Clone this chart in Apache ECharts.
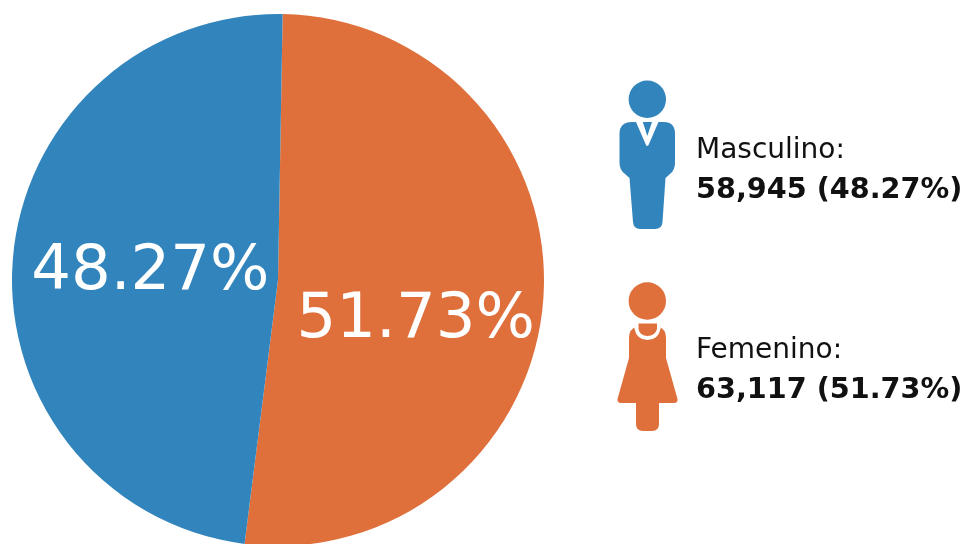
<!DOCTYPE html>
<html><head><meta charset="utf-8">
<style>html,body{margin:0;padding:0;background:#fff}#c{width:967px;height:544px}</style>
<script src="https://cdn.jsdelivr.net/npm/echarts@6/dist/echarts.min.js"></script>
</head><body><div id="c"></div>
<script>
const categories = ['Femenino', 'Masculino'];
const counts = ['63,117', '58,945'];
const percents = [51.73, 48.27];
const colors = ['#DF703B', '#3285BC'];
const FONT = '"DejaVu Sans"';

const manBody = 'M632 122 L664 122 Q675 122 675 134 L675 163 Q675 170 670 174 L665.5 178 L662.5 222 Q662 229 655 229 L640 229 Q633.5 229 633 222 L629.5 178 L625 174 Q619.5 170 619.5 163 L619.5 134 Q619.5 122 632 122 Z';
const manTieWhite = 'M636 122 L658.5 122 L648.5 145 Q647.3 147 646 145 Z';
const manTieInner = 'M642.8 122 L652 122 L647.3 136 Z';
const womanBody = 'M636 327 L659 327 Q666 329 666 338 L666 358 L677.5 399 Q678 403 674 403 L659 403 L659 424 Q659 431 652 431 L643 431 Q636 431 636 424 L636 403 L621 403 Q617 403 617.5 399 L629 358 L629 338 Q629 329 636 327 Z';
const womanRing = 'M634.5 324 L660.5 324 L660.5 329 Q658 340 647.5 340 Q637 340 634.5 329 Z';
const womanInner = 'M638.5 323.5 L657 323.5 L657 329 Q655 336 647.5 336 Q640 336 638.5 329 Z';

const icons = [
  {layers: [[manBody, 1], [manTieWhite, -1], [manTieInner, 1]], color: colors[1], head: [647.3, 99.3]},
  {layers: [[womanBody, 1], [womanRing, -1], [womanInner, 1]], color: colors[0], head: [647.3, 301]}
];

const chart = echarts.init(document.getElementById('c'), null, {renderer: 'canvas'});
const labelOffsets = [[2, 31], [8, 3]];
const legendPos = [{idx: 0, y: 351, y2: 391}, {idx: 1, y: 151, y2: 191}];

chart.setOption({
  animation: false,
  series: [
    {
      type: 'pie',
      center: [278, 280],
      radius: [0, 266],
      startAngle: 89,
      clockwise: true,
      silent: true,
      label: {
        show: true, position: 'inside', color: '#fff',
        fontFamily: FONT, fontSize: 62.5, fontWeight: 400,
        formatter: p => p.value.toFixed(2) + '%'
      },
      labelLine: {show: false},
      itemStyle: {borderWidth: 0},
      data: categories.map((n, i) => ({
        name: n, value: percents[i],
        itemStyle: {color: colors[i]},
        label: {offset: labelOffsets[i]}
      }))
    },
    {
      type: 'custom',
      coordinateSystem: 'none',
      silent: true,
      data: [0, 1],
      renderItem: (params) => {
        const ic = icons[params.dataIndex];
        return {
          type: 'group',
          children: ic.layers.map(([d, k]) => (
            {type: 'path', shape: {pathData: d}, style: {fill: k > 0 ? ic.color : '#fff'}}
          )).concat([
            {type: 'circle', shape: {cx: ic.head[0], cy: ic.head[1], r: 18.7}, style: {fill: ic.color}}
          ])
        };
      }
    }
  ],
  graphic: legendPos.flatMap(l => [
    {type: 'text', x: 696, y: l.y, style: {text: categories[l.idx] + ':', font: '400 28px ' + FONT, fill: '#111', textVerticalAlign: 'middle'}},
    {type: 'text', x: 696, y: l.y2, style: {text: counts[l.idx] + ' (' + percents[l.idx].toFixed(2) + '%)', font: '700 28.7px ' + FONT, fill: '#111', textVerticalAlign: 'middle'}}
  ])
});
</script></body></html>
